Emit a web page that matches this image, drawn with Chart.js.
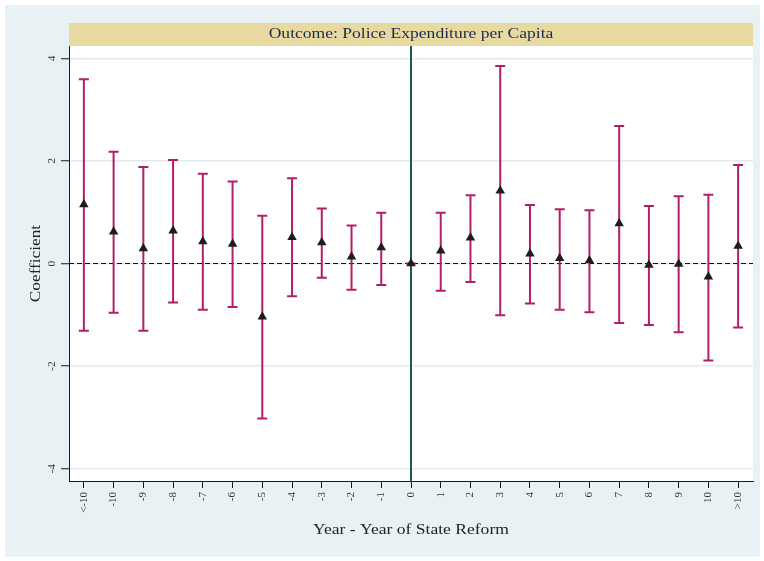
<!DOCTYPE html>
<html>
<head>
<meta charset="utf-8">
<script src="https://cdn.jsdelivr.net/npm/chart.js@4.4.1/dist/chart.umd.min.js"></script>
<style>
  html, body { margin: 0; padding: 0; background: #ffffff; }
  #c { display: block; }
</style>
</head>
<body>
<canvas id="c" width="764" height="561"></canvas>
<script>
// Event-study periods relative to the year of state reform
const periods = ['<-10', '-10', '-9', '-8', '-7', '-6', '-5', '-4', '-3', '-2', '-1', '0',
                 '1', '2', '3', '4', '5', '6', '7', '8', '9', '10', '>10'];
// Point estimates
const coef = [1.15, 0.62, 0.29, 0.64, 0.43, 0.38, -1.04, 0.51, 0.41, 0.13, 0.31, 0.00,
              0.25, 0.50, 1.42, 0.19, 0.10, 0.06, 0.78, -0.03, -0.01, -0.26, 0.34];
// Confidence interval bounds
const ciLow = [-1.31, -0.96, -1.31, -0.76, -0.90, -0.85, -3.02, -0.64, -0.28, -0.51, -0.42, 0.00,
               -0.53, -0.36, -1.01, -0.78, -0.90, -0.95, -1.16, -1.20, -1.34, -1.89, -1.25];
const ciHigh = [3.59, 2.18, 1.88, 2.02, 1.75, 1.60, 0.93, 1.66, 1.07, 0.74, 0.99, 0.00,
                0.99, 1.33, 3.85, 1.14, 1.06, 1.04, 2.68, 1.12, 1.31, 1.34, 1.92];
const yTicks = [-4, -2, 0, 2, 4];
const reformPeriod = '0';

const titleText = 'Outcome: Police Expenditure per Capita';
const xTitle = 'Year - Year of State Reform';
const yTitle = 'Coefficient';

const SERIF = '"Liberation Serif", "DejaVu Serif", serif';
const BAR_COLOR = '#b21f69';
const OUTER_BG = '#e8f1f3';

// centred text, optionally rotated, with a slight horizontal widening
function label(ctx, text, x, y, rot, font, color, stretch) {
  ctx.save();
  ctx.translate(x, y);
  ctx.rotate(rot);
  ctx.scale(stretch, 1);
  ctx.font = font;
  ctx.fillStyle = color;
  ctx.textAlign = 'center';
  ctx.textBaseline = 'middle';
  ctx.fillText(text, 0, 0);
  ctx.restore();
}

const decor = {
  id: 'decor',
  beforeDraw(chart) {
    const ctx = chart.ctx;
    const a = chart.chartArea;
    const W = chart.width, H = chart.height;
    ctx.save();
    ctx.fillStyle = '#ffffff';
    ctx.fillRect(0, 0, W, H);
    ctx.fillStyle = OUTER_BG;
    ctx.fillRect(5, 5, W - 9, H - 9);
    ctx.fillStyle = '#ffffff';
    ctx.fillRect(a.left, a.top, a.right - a.left, a.bottom - a.top);

    // title band
    ctx.fillStyle = '#e8d9a1';
    ctx.fillRect(a.left, a.top - 23, a.right - a.left, 23);
    ctx.restore();
    label(ctx, titleText, (a.left + a.right) / 2, a.top - 11.5, 0, '15px ' + SERIF, '#1c2b4c', 1.17);

    // rotated y tick labels
    const y = chart.scales.y;
    yTicks.forEach(v => {
      label(ctx, String(v), a.left - 17, y.getPixelForValue(v), -Math.PI / 2, '11px ' + SERIF, '#333333', 1.05);
    });

    // axis titles
    label(ctx, yTitle, 36, (a.top + a.bottom) / 2, -Math.PI / 2, '15px ' + SERIF, '#222222', 1.15);
    label(ctx, xTitle, (a.left + a.right) / 2, 530, 0, '15px ' + SERIF, '#222222', 1.17);
  },
  beforeDatasetsDraw(chart) {
    const ctx = chart.ctx;
    const a = chart.chartArea;
    const x = chart.scales.x, y = chart.scales.y;
    ctx.save();
    // zero reference line
    const y0 = y.getPixelForValue(0);
    ctx.strokeStyle = '#111111';
    ctx.lineWidth = 1;
    ctx.setLineDash([5, 3]);
    ctx.beginPath();
    ctx.moveTo(a.left, y0);
    ctx.lineTo(a.right, y0);
    ctx.stroke();
    ctx.setLineDash([]);

    // reform year line
    const xr = x.getPixelForValue(periods.indexOf(reformPeriod));
    ctx.strokeStyle = '#17603b';
    ctx.lineWidth = 2;
    ctx.beginPath();
    ctx.moveTo(xr, a.top);
    ctx.lineTo(xr, a.bottom);
    ctx.stroke();

    // confidence intervals
    ctx.strokeStyle = BAR_COLOR;
    ctx.lineWidth = 2;
    periods.forEach((p, i) => {
      const px = x.getPixelForValue(i);
      const yl = y.getPixelForValue(ciLow[i]);
      const yh = y.getPixelForValue(ciHigh[i]);
      ctx.beginPath();
      ctx.moveTo(px, yl); ctx.lineTo(px, yh);
      ctx.moveTo(px - 5, yl); ctx.lineTo(px + 5, yl);
      ctx.moveTo(px - 5, yh); ctx.lineTo(px + 5, yh);
      ctx.stroke();
    });
    ctx.restore();
  }
};

new Chart(document.getElementById('c'), {
  type: 'line',
  data: {
    labels: periods,
    datasets: [{
      data: coef,
      showLine: false,
      pointStyle: 'triangle',
      pointRadius: 5.5,
      pointHoverRadius: 5.5,
      pointBackgroundColor: '#1d1d1d',
      pointBorderColor: '#1d1d1d',
      pointBorderWidth: 0
    }]
  },
  options: {
    responsive: false,
    animation: false,
    devicePixelRatio: 1,
    layout: { padding: { left: 0, top: 46, right: 11, bottom: 0 } },
    plugins: { legend: { display: false }, tooltip: { enabled: false }, title: { display: false } },
    scales: {
      x: {
        type: 'category',
        offset: true,
        afterFit(s) { s.height = 80; },
        border: { display: true, color: '#1a1a1a', width: 1 },
        grid: { drawOnChartArea: false, drawTicks: true, tickLength: 7, tickColor: '#1a1a1a', tickWidth: 1 },
        ticks: {
          autoSkip: false,
          maxRotation: 90,
          minRotation: 90,
          padding: 4,
          color: '#333333',
          font: { family: SERIF, size: 11 }
        }
      },
      y: {
        min: -4.24,
        max: 4.24,
        afterFit(s) { s.width = 69; },
        afterBuildTicks(s) { s.ticks = yTicks.map(v => ({ value: v })); },
        border: { display: true, color: '#1a1a1a', width: 1 },
        grid: { color: '#e2ecee', lineWidth: 1.5, drawTicks: true, tickLength: 8, tickColor: '#1a1a1a', tickWidth: 1 },
        ticks: { display: false }
      }
    }
  },
  plugins: [decor]
});
</script>
</body>
</html>
